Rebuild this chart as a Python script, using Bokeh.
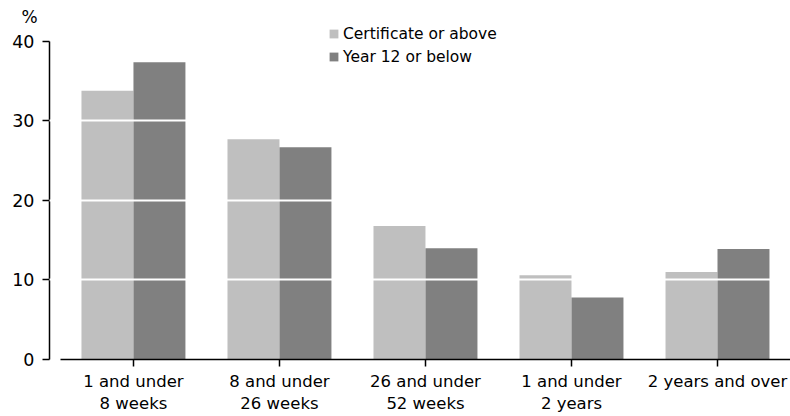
from bokeh.plotting import figure
from bokeh.models import FixedTicker, Legend, LegendItem, Range1d
from bokeh.embed import file_html
from bokeh.resources import INLINE

categories = ["1 and under\n8 weeks", "8 and under\n26 weeks", "26 and under\n52 weeks",
              "1 and under\n2 years", "2 years and over"]
certificate = [33.8, 27.7, 16.8, 10.6, 11.0]
year12 = [37.4, 26.7, 14.0, 7.8, 13.9]
series_names = ["Certificate or above", "Year 12 or below"]
y_ticks = [0, 10, 20, 30, 40]
grid_ticks = [10, 20, 30]
unit_label = "%"

LIGHT = "#bfbfbf"
DARK = "#808080"
FONT = "DejaVu Sans"

xs = list(range(len(categories)))
bw = 0.356

p = figure(width=790, height=416, output_backend="svg", toolbar_location=None,
           x_range=Range1d(-0.575, 4.5), y_range=Range1d(0, 43.27),
           min_border_left=49, min_border_right=0, min_border_top=15, min_border_bottom=57)
p.outline_line_color = None

p.title.text = unit_label
p.title.align = "left"
p.title.offset = -28
p.title.vertical_align = "bottom"
p.title.standoff = -22
p.title.text_font = FONT
p.title.text_font_size = "17px"
p.title.text_font_style = "normal"
p.title.text_color = "black"

r1 = p.vbar(x=[x - bw / 2 for x in xs], top=certificate, width=bw, color=LIGHT, line_color=None)
r2 = p.vbar(x=[x + bw / 2 for x in xs], top=year12, width=bw, color=DARK, line_color=None)

p.xgrid.visible = False
p.ygrid.ticker = FixedTicker(ticks=grid_ticks)
p.ygrid.grid_line_color = "white"
p.ygrid.grid_line_width = 2
p.ygrid.level = "overlay"

xa = p.xaxis[0]
xa.ticker = FixedTicker(ticks=xs)
xa.major_label_overrides = {i: c for i, c in enumerate(categories)}
xa.bounds = (-0.5, 4.5)
xa.minor_tick_line_color = None
xa.major_tick_in = 0
xa.major_tick_out = 7
xa.major_tick_line_width = 1.5
xa.axis_line_width = 1.5
xa.major_label_text_font = FONT
xa.major_label_text_font_size = "16.5px"
xa.major_label_text_color = "black"
xa.major_label_standoff = 5

ya = p.yaxis[0]
ya.ticker = FixedTicker(ticks=y_ticks)
ya.bounds = (0, 40)
ya.minor_tick_line_color = None
ya.major_tick_in = 0
ya.major_tick_out = 7
ya.major_tick_line_width = 1.5
ya.axis_line_width = 1.5
ya.major_label_text_font = FONT
ya.major_label_text_font_size = "17.5px"
ya.major_label_text_color = "black"
ya.major_label_standoff = 8

legend = Legend(items=[LegendItem(label=series_names[0], renderers=[r1]),
                       LegendItem(label=series_names[1], renderers=[r2])],
                location=(279, 291), glyph_width=11, glyph_height=11, label_standoff=4,
                label_height=23, spacing=0, padding=0, margin=0,
                border_line_color=None, background_fill_alpha=0,
                label_text_font=FONT, label_text_font_size="15.5px",
                label_text_color="black")
p.add_layout(legend, "center")

open("out.html", "w").write(file_html(p, INLINE))
